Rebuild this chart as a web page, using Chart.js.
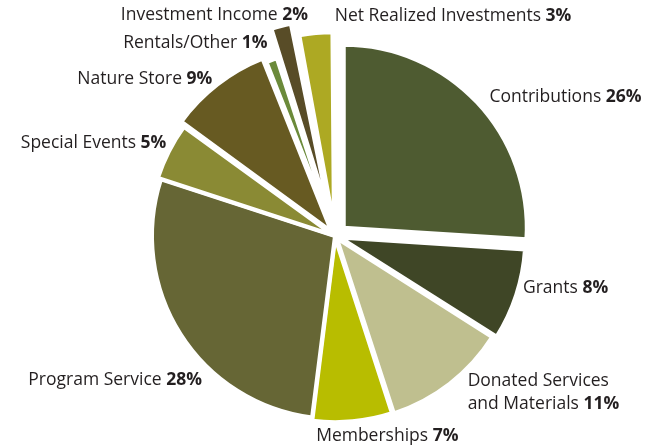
<!DOCTYPE html>
<html>
<head>
<meta charset="utf-8">
<script src="https://cdn.jsdelivr.net/npm/chart.js@4"></script>
<style>
  body { margin: 0; background: #fff; }
  #wrap { width: 664px; height: 447px; position: relative; }
</style>
</head>
<body>
<div id="wrap"><canvas id="chart"></canvas></div>
<script>
// revenue sources, clockwise from 12 o'clock
const categories = [
  ['Contributions'],
  ['Grants'],
  ['Donated Services', 'and Materials'],
  ['Memberships'],
  ['Program Service'],
  ['Special Events'],
  ['Nature Store'],
  ['Rentals/Other'],
  ['Investment Income'],
  ['Net Realized Investments']
];
const percents = [26, 8, 11, 7, 28, 5, 9, 1, 2, 3];

const colors = ['#4e5b31', '#3f4626', '#bfbf8f', '#b8bd00', '#666635',
                '#8a8a34', '#675a22', '#6b8a3a', '#584c27', '#ada923'];
// chart.js moves a slice by offset/4 (and thin slices also grow)
const offsets = [48, 20, 12, 8, 0, 8, 24, 8, 72, 46];

// label placement: anchor on the slice's mid angle, then nudged
const labelRadius = 205;
const labelAlign = ['left', 'left', 'left', 'center', 'right', 'right', 'right', 'right', 'right', 'left'];
const labelNudge = [[5, 1], [-7, -11], [7, -5], [33, -4], [40, 34], [14, 0], [3, 5], [2, 0], [24, -22], [19, -16]];

const FONT = '"Open Sans", "Noto Sans", sans-serif';
const SIZE = 17.5;
const LINE_H = 23;

const outsideLabels = {
  id: 'outsideLabels',
  afterDraw(chart) {
    const ctx = chart.ctx;
    const arcs = chart.getDatasetMeta(0).data;
    ctx.save();
    ctx.fillStyle = '#231f20';
    ctx.textBaseline = 'middle';
    ctx.textAlign = 'left';
    arcs.forEach((arc, i) => {
      const mid = (arc.startAngle + arc.endAngle) / 2;
      const ax = arc.x + Math.cos(mid) * labelRadius + labelNudge[i][0];
      const ay = arc.y + Math.sin(mid) * labelRadius + labelNudge[i][1];
      const lines = categories[i];
      const top = ay - (lines.length - 1) * LINE_H / 2;
      lines.forEach((line, j) => {
        const last = j === lines.length - 1;
        const normal = last ? line + ' ' : line;
        const bold = last ? percents[i] + '%' : '';
        ctx.font = SIZE + 'px ' + FONT;
        const w1 = ctx.measureText(normal).width;
        ctx.font = 'bold ' + SIZE + 'px ' + FONT;
        const w2 = ctx.measureText(bold).width;
        const total = w1 + w2;
        let x = ax;
        if (labelAlign[i] === 'right') x = ax - total;
        else if (labelAlign[i] === 'center') x = ax - total / 2;
        const y = top + j * LINE_H;
        ctx.font = SIZE + 'px ' + FONT;
        ctx.fillText(normal, x, y);
        ctx.font = 'bold ' + SIZE + 'px ' + FONT;
        ctx.fillText(bold, x + w1, y);
      });
    });
    ctx.restore();
  }
};

new Chart(document.getElementById('chart'), {
  type: 'pie',
  data: {
    labels: categories.map(c => c.join(' ')),
    datasets: [{
      data: percents,
      backgroundColor: colors,
      borderColor: '#ffffff',
      borderWidth: 4,
      offset: offsets
    }]
  },
  options: {
    responsive: true,
    maintainAspectRatio: false,
    animation: false,
    radius: 183,
    layout: { padding: { left: 6, right: 0, top: 25, bottom: 0 } },
    plugins: {
      legend: { display: false },
      tooltip: { enabled: false }
    }
  },
  plugins: [outsideLabels]
});
</script>
</body>
</html>
